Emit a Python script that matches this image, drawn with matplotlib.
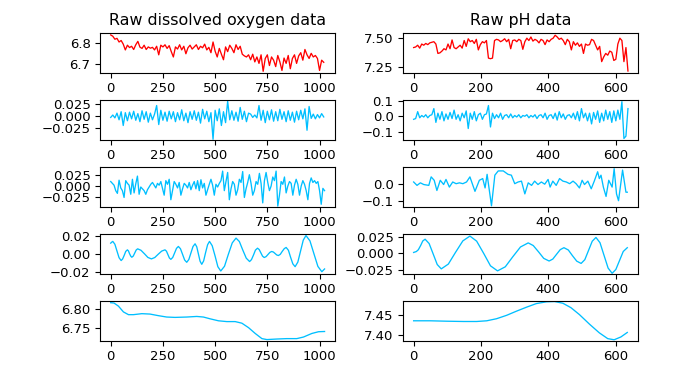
import matplotlib
matplotlib.use("Agg")
import matplotlib.pyplot as plt
import numpy as np

# ---- dissolved oxygen: raw series and its wavelet parts ----
do_raw = [6.838, 6.832, 6.818, 6.822, 6.805, 6.812, 6.795, 6.768, 6.790, 6.779,
          6.785, 6.770, 6.792, 6.808, 6.781, 6.775, 6.790, 6.770, 6.782, 6.776,
          6.780, 6.768, 6.785, 6.745, 6.790, 6.782, 6.792, 6.775, 6.788, 6.760,
          6.735, 6.782, 6.772, 6.792, 6.768, 6.785, 6.750, 6.778, 6.790, 6.772,
          6.782, 6.792, 6.770, 6.785, 6.778, 6.795, 6.768, 6.780, 6.755, 6.805,
          6.762, 6.735, 6.775, 6.748, 6.722, 6.782, 6.760, 6.790, 6.775, 6.755,
          6.792, 6.770, 6.785, 6.748, 6.740, 6.735, 6.745, 6.722, 6.748, 6.712,
          6.735, 6.705, 6.745, 6.668, 6.728, 6.745, 6.695, 6.735, 6.720, 6.690,
          6.742, 6.712, 6.672, 6.730, 6.705, 6.742, 6.680, 6.728, 6.745, 6.705,
          6.740, 6.755, 6.720, 6.770, 6.745, 6.728, 6.752, 6.735, 6.742, 6.728,
          6.672, 6.720, 6.710]

# detail level 1, in units of 1e-3
do_d1 = [-3, 2, -4, 6, -8, 9, -20, 7, -10, 8,
         -6, 10, -9, 5, -12, 11, -7, 9, -13, 6,
         -8, 4, 22, -18, 12, -9, 8, -11, 10, -6,
         9, -12, 7, -8, 13, -10, 6, -14, 9, -7,
         11, -9, 8, -15, 14, -6, 10, -12, 7, -49,
         12, -10, 15, -20, 9, -14, 31, -8, 11, -9,
         8, -11, 18, -7, 10, -12, 6, 4, -3, 2,
         -4, 22, -9, 12, -14, 10, -8, 13, -11, 9,
         -10, 14, -7, 9, -12, 11, -9, 8, -13, 10,
         -8, 12, -6, 15, -30, 20, -5, 4, -6, 3,
         -4, 5, -2]

# detail level 2, in units of 1e-3, every 8 samples
do_d2 = [10, 6, 2, -10, -16, 13, -4, -10, -25, 12, 6, 2, -18, 15, -15, 5,
         22, -18, -2, -6, -10, -18, -8, -2, 4, 8, 2, -4, 6, 2, 10, -5,
         -20, 12, 4, 15, -30, -10, 10, 4, -4, 8, -20, -6, 6, 2, -4, 8,
         -8, 2, 10, -6, 12, -10, 14, -4, 6, -20, -8, 4, 15, 2, -20, 4,
         -2, 6, 12, 33, -10, 10, 30, -30, -6, 10, 4, -20, -8, 15, 8, 32,
         -25, -6, 8, 25, 6, -20, -10, 10, 4, 28, 6, -37, 12, 30, 8, -10,
         0, 20, 12, 33, -44, -20, 10, 4, 20, -15, 0, 10, 6, -20, 2, 15,
         4, -20, 0, 12, 4, -10, -30, 6, 18, 8, 12, 6, 10, -10, -40, -5,
         -10]

# detail level 3, in units of 1e-4
do_d3_x = [0, 5, 10, 20, 30, 40, 50, 57, 65, 72, 80, 85, 90, 96, 101, 108, 115, 122, 129, 145,
           162, 178, 195, 211, 227, 244, 260, 267, 274, 281, 288, 297, 306, 315, 324, 334, 344, 354, 364, 374,
           384, 394, 404, 412, 420, 428, 436, 445, 454, 464, 473, 486, 500, 513, 527, 545, 563, 582, 600, 616,
           632, 649, 665, 674, 684, 693, 703, 711, 719, 727, 735, 744, 753, 762, 771, 779, 787, 795, 803, 812,
           821, 831, 840, 851, 861, 872, 883, 896, 909, 922, 935, 954, 973, 992, 1011, 1024]
do_d3 = [117, 128, 136, 105, 31, -42, -73, -56, -14, 27, 44, 32, 3, -25, -37, -24, 9, 42, 55, 39,
         0, -39, -55, -40, -5, 30, 44, 29, -8, -45, -60, -39, 10, 60, 81, 56, -5, -67, -92, -62,
         9, 80, 110, 77, -2, -81, -114, -77, 11, 100, 136, 89, -25, -140, -187, -135, -7, 120, 172, 135,
         44, -47, -84, -63, -11, 41, 62, 47, 11, -25, -40, -30, -7, 16, 26, 20, 4, -12, -18, -5,
         26, 57, 70, 39, -35, -109, -140, -90, 30, 150, 200, 142, 2, -137, -195, -165]

do_ap_x = [0, 16, 37, 61, 85, 109, 149, 188, 228, 268, 308, 364, 412, 444, 476,
           516, 556, 596, 628, 660, 692, 724, 748, 796, 843, 891, 923, 963, 995, 1024]
do_ap = [6.8147, 6.8138, 6.806, 6.7914, 6.7845, 6.7845, 6.787, 6.786, 6.782, 6.7785,
         6.7776, 6.7785, 6.780, 6.7785, 6.774, 6.769, 6.767, 6.767, 6.763, 6.7517,
         6.737, 6.724, 6.7216, 6.723, 6.724, 6.724, 6.728, 6.737, 6.7414, 6.742]

# ---- pH: raw series and its wavelet parts ----
ph_raw = [7.42, 7.425, 7.44, 7.415, 7.45, 7.44, 7.455, 7.445, 7.46, 7.465,
          7.47, 7.45, 7.37, 7.375, 7.39, 7.41, 7.40, 7.45, 7.41, 7.485,
          7.42, 7.41, 7.425, 7.44, 7.415, 7.48, 7.43, 7.495, 7.47, 7.48,
          7.455, 7.49, 7.40, 7.445, 7.47, 7.46, 7.48, 7.33, 7.325, 7.33,
          7.48, 7.49, 7.485, 7.47, 7.48, 7.495, 7.47, 7.49, 7.41, 7.48,
          7.485, 7.47, 7.49, 7.48, 7.405, 7.47, 7.50, 7.48, 7.51, 7.475,
          7.49, 7.48, 7.46, 7.49, 7.48, 7.445, 7.485, 7.47, 7.49, 7.50,
          7.525, 7.51, 7.49, 7.50, 7.48, 7.445, 7.49, 7.47, 7.40, 7.47,
          7.44, 7.46, 7.43, 7.45, 7.37, 7.45, 7.44, 7.445, 7.49, 7.48,
          7.44, 7.40, 7.43, 7.30, 7.34, 7.37, 7.355, 7.39, 7.38, 7.31,
          7.32, 7.45, 7.50, 7.48, 7.30, 7.42, 7.22]

# detail level 1, in units of 1e-2
ph_d1 = [-2, -1.5, 3, -1, 0.5, -0.5, 1, -1, 0.5, 1,
         5, -4, 2, -2, 3, -3, 1.5, -2, 2.5, -1.5,
         4, -2, 1, -3, 2, -1, 3.5, -8, 2, -2,
         3, -3, 1, 2, -2, 1, 1.5, 7, -7, 2,
         -1.5, 1, -1, 2, -2, 0.5, 1, -1, 1.5, -1,
         0.5, -0.5, 1, -1, 0.5, 0, 1, -1, 0.5, -0.5,
         1, -1.5, 0.5, 1, -1, 2, -2, 0.5, 1, -1.5,
         2, -2.5, 3, -1, 1.5, -2, 0.5, 1, -1, 2,
         -2, 3, -3, 5, -1, 2, -3, 2, -5, 2.5,
         -2, 3.5, -4, 2, -3, 4, -2, 3, -4, 3.5,
         -3, 4, -2, 9.5, -14.5, -13, 5]

# detail level 2, in units of 1e-3
ph_d2_x = [0, 10, 20, 30, 45, 52, 61, 69, 79, 89, 96, 106, 116, 126, 136, 146, 157, 167, 182, 195,
           205, 212, 218, 231, 241, 251, 266, 280, 290, 300, 310, 320, 330, 340, 350, 359, 369, 379, 389, 399,
           405, 413, 423, 433, 443, 453, 463, 473, 482, 492, 500, 507, 517, 527, 536, 546, 551, 556, 563, 571,
           579, 589, 595, 602, 608, 620, 630, 634]
ph_d2 = [10, -10, 5, -5, -10, 40, 20, -40, 20, -5, 25, -20, 10, 0, 5, 0, 10, 40, -45, 20,
         30, -25, 55, -130, 50, 75, 75, 55, 50, 0, 10, 15, -60, 5, -10, 15, -5, 10, -3, 25,
         -20, 15, -10, 30, 15, 10, 0, 15, 0, -25, 20, -5, 15, -30, 15, 70, 30, 50, -20, -75,
         20, -20, 88, -60, -100, 80, -50, -50]

# detail level 3, in units of 1e-4
ph_d3_x = [0, 8, 14, 21, 27, 34, 46, 58, 70, 82, 103, 124, 146, 167, 187, 208, 228, 249, 272, 294,
           317, 340, 355, 371, 386, 402, 413, 424, 435, 446, 459, 471, 484, 497, 508, 519, 530, 541, 553, 565,
           577, 589, 600, 611, 622, 634]
ph_d3 = [16, 30, 58, 125, 192, 220, 153, -8, -170, -237, -163, 15, 194, 268, 190, 0, -190, -268, -205, -52,
         100, 163, 122, 23, -75, -116, -86, -13, 59, 89, 54, -32, -118, -153, -95, 47, 189, 247, 166, -29,
         -224, -305, -247, -108, 31, 89]

ph_ap_x = [0, 49, 98, 148, 187, 217, 246, 276, 305, 335, 364, 394, 418, 443, 467,
           492, 522, 551, 576, 595, 615, 634]
ph_ap = [7.435, 7.435, 7.434, 7.4333, 7.4333, 7.435, 7.44, 7.4483, 7.4583, 7.468, 7.4767,
         7.481, 7.4817, 7.4775, 7.4667, 7.45, 7.4267, 7.4058, 7.3917, 7.389, 7.3958, 7.4067]

do_titles = "Raw dissolved oxygen data"
ph_titles = "Raw pH data"

RED = "#ff0000"
BLUE = "#00bfff"

fig, axes = plt.subplots(5, 2, figsize=(6.98, 3.73), dpi=100)
fig.subplots_adjust(left=0.1433, right=0.914, top=0.9115, bottom=0.0858,
                    wspace=0.289, hspace=0.675)

lw = 0.95
left = [
    (np.arange(len(do_raw)) * 10, np.array(do_raw), RED, (6.66, 6.847), [6.7, 6.8]),
    (np.arange(len(do_d1)) * 10, np.array(do_d1) / 1000, BLUE, (-0.0505, 0.0336), [-0.025, 0.0, 0.025]),
    (np.arange(len(do_d2)) * 8, np.array(do_d2) / 1000, BLUE, (-0.046, 0.042), [-0.025, 0.0, 0.025]),
    (np.array(do_d3_x), np.array(do_d3) / 10000, BLUE, (-0.022, 0.0217), [-0.02, 0.0, 0.02]),
    (np.array(do_ap_x), np.array(do_ap), BLUE, (6.718, 6.819), [6.75, 6.80]),
]
right = [
    (np.arange(len(ph_raw)) * 6, np.array(ph_raw), RED, (7.203, 7.544), [7.25, 7.50]),
    (np.arange(len(ph_d1)) * 6, np.array(ph_d1) / 100, BLUE, (-0.155, 0.106), [-0.1, 0.0, 0.1]),
    (np.array(ph_d2_x), np.array(ph_d2) / 1000, BLUE, (-0.137, 0.098), [-0.1, 0.0]),
    (np.array(ph_d3_x), np.array(ph_d3) / 10000, BLUE, (-0.0316, 0.030), [-0.025, 0.0, 0.025]),
    (np.array(ph_ap_x), np.array(ph_ap), BLUE, (7.386, 7.483), [7.40, 7.45]),
]

for i in range(5):
    for j, rows in enumerate([left, right]):
        ax = axes[i, j]
        x, y, c, yl, yt = rows[i]
        ax.plot(x, y, color=c, lw=lw)
        ax.set_ylim(yl)
        ax.set_yticks(yt)
        if j == 0:
            ax.set_xlim(-51.15, 1074.15)
            ax.set_xticks([0, 250, 500, 750, 1000])
        else:
            ax.set_xlim(-31.7, 665.7)
            ax.set_xticks([0, 200, 400, 600])
        ax.tick_params(labelsize=9.5, length=3.3, width=0.8)
        for s in ax.spines.values():
            s.set_linewidth(0.8)

axes[0, 0].set_title(do_titles, fontsize=11.4)
axes[0, 1].set_title(ph_titles, fontsize=11.4)

fig.savefig("out.png", dpi=100)
